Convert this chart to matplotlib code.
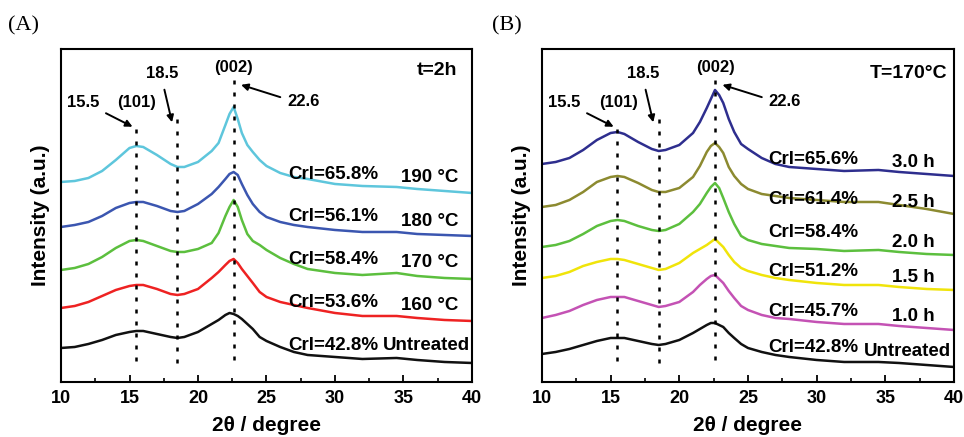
import matplotlib
matplotlib.use("Agg")
from matplotlib import pyplot as plt

plt.rcParams['font.family'] = ['Liberation Sans', 'DejaVu Sans']
plt.rcParams['font.weight'] = 'bold'

# 2theta sample positions
two_theta = [10, 11, 12, 13, 14, 15, 15.5, 16, 17, 18, 18.5, 19, 20, 21, 21.5, 22, 22.3,
             22.6, 22.9, 23.2, 23.6, 24, 24.5, 25, 26, 27, 28, 30, 32, 34.5, 36, 38, 40]

# panel A, t=2h, different temperatures (a.u., stacked with offsets)
a_190 = [200, 201, 204, 211, 222, 234, 236, 235, 227, 218, 215, 215, 220, 231, 239, 257, 268,
         275, 263, 249, 237, 230, 222, 216, 209, 205, 203, 198, 196, 195, 193, 191, 189]
a_180 = [155, 157, 160, 166, 174, 179, 180, 180, 176, 171, 170, 171, 178, 188, 195, 203, 208,
         210, 207, 198, 187, 178, 170, 165, 160, 157, 155, 152, 150, 150, 148, 147, 146]
a_170 = [112, 114, 118, 125, 134, 141, 142, 141, 136, 131, 130, 130, 133, 139, 149, 166, 175,
         182, 175, 162, 148, 141, 137, 132, 124, 118, 113, 109, 107, 109, 106, 104, 103]
a_160 = [74, 76, 80, 86, 92, 96, 97, 97, 93, 88, 87, 88, 93, 104, 110, 117, 121,
         123, 119, 113, 106, 99, 90, 85, 80, 77, 74, 69, 66, 66, 64, 62, 61]
a_raw = [34, 35, 38, 42, 47, 50, 51, 51, 48, 45, 44, 45, 50, 58, 62, 67, 69,
         68, 66, 63, 58, 53, 45, 41, 35, 30, 27, 25, 23, 24, 22, 20, 19]

# panel B, T=170C, different times
b_30 = [218, 220, 224, 232, 242, 249, 250, 248, 240, 233, 231, 232, 237, 249, 260, 274, 283,
        292, 287, 279, 263, 250, 238, 233, 224, 218, 215, 213, 211, 212, 210, 208, 206]
b_25 = [175, 177, 182, 190, 200, 205, 206, 205, 199, 192, 190, 190, 194, 205, 216, 230, 236,
        239, 235, 229, 215, 206, 198, 193, 188, 186, 184, 182, 180, 180, 177, 173, 168]
b_20 = [135, 137, 141, 148, 156, 161, 162, 161, 156, 152, 151, 152, 158, 170, 178, 189, 195,
        199, 194, 184, 170, 158, 146, 142, 138, 136, 134, 133, 131, 132, 130, 128, 127]
b_15 = [104, 106, 110, 116, 120, 123, 123, 122, 118, 114, 112, 113, 119, 129, 133, 137, 140,
        143, 139, 135, 127, 120, 114, 111, 107, 104, 102, 99, 97, 97, 95, 93, 92]
b_10 = [64, 67, 71, 77, 82, 85, 85, 85, 81, 77, 75, 76, 80, 90, 97, 103, 106,
        107, 103, 99, 91, 84, 76, 72, 67, 64, 63, 60, 58, 58, 56, 54, 52]
b_raw = [28, 30, 33, 37, 41, 44, 44, 44, 41, 38, 37, 38, 42, 49, 53, 57, 59,
         59, 57, 55, 49, 44, 38, 34, 30, 27, 25, 22, 20, 20, 19, 17, 15]

a_curves = [a_190, a_180, a_170, a_160, a_raw]
a_colors = ['#5ec6dc', '#3b56b0', '#5cbf3e', '#ee2222', '#111111']
a_crl = ['Crl=65.8%', 'Crl=56.1%', 'Crl=58.4%', 'Crl=53.6%', 'Crl=42.8%']
a_names = ['190 °C', '180 °C', '170 °C', '160 °C', 'Untreated']
a_crl_y = [207, 165, 122, 79, 36]
a_name_y = [204, 160, 119, 76, 36]

b_curves = [b_30, b_25, b_20, b_15, b_10, b_raw]
b_colors = ['#2e2e8e', '#8c8a30', '#5cbf3e', '#f0e40a', '#c452b4', '#111111']
b_crl = ['Crl=65.6%', 'Crl=61.4%', 'Crl=58.4%', 'Crl=51.2%', 'Crl=45.7%', 'Crl=42.8%']
b_names = ['3.0 h', '2.5 h', '2.0 h', '1.5 h', '1.0 h', 'Untreated']
b_crl_y = [222, 182, 149, 110, 70, 34]
b_name_y = [219, 179, 139, 104, 65, 30]

fig = plt.figure(figsize=(9.64, 4.37), dpi=100)
axA = fig.add_axes([0.0633, 0.1259, 0.4263, 0.762])
axB = fig.add_axes([0.5622, 0.1259, 0.4274, 0.762])


def setup(ax):
    ax.set_xlim(10, 40)
    ax.set_ylim(0, 333)
    ax.set_xticks([10, 15, 20, 25, 30, 35, 40])
    ax.set_xticks([12.5, 17.5, 22.5, 27.5, 32.5, 37.5], minor=True)
    ax.set_yticks([])
    ax.tick_params(axis='x', direction='in', length=5, width=1.3, labelsize=13, pad=6)
    ax.tick_params(axis='x', which='minor', direction='in', length=3, width=1.2)
    for lab in ax.get_xticklabels():
        lab.set_fontweight('bold')
    for s in ax.spines.values():
        s.set_linewidth(1.5)
    ax.set_xlabel('2θ / degree', fontsize=15, fontweight='bold', labelpad=6)
    ax.set_ylabel('Intensity (a.u.)', fontsize=15, fontweight='bold', labelpad=8)


def markers(ax):
    # dotted guide lines at 15.5, 18.5 and 22.6
    for x, top, bot in zip([15.5, 18.5, 22.6], [254, 269, 304], [21, 19, 22]):
        ax.plot([x, x], [bot, top], color='black', lw=1.8, dashes=(1.6, 3.2), zorder=3)
    ax.text(22.6, 314, '(002)', ha='center', va='center', fontsize=12, fontweight='bold')
    ax.text(17.4, 308, '18.5', ha='center', va='center', fontsize=12, fontweight='bold')
    ax.text(11.6, 279, '15.5', ha='center', va='center', fontsize=12, fontweight='bold')
    ax.text(15.55, 279, '(101)', ha='center', va='center', fontsize=12, fontweight='bold')
    ax.text(27.7, 280, '22.6', ha='center', va='center', fontsize=12, fontweight='bold')
    arrow = dict(arrowstyle='-|>', color='black', lw=1.4, mutation_scale=10)
    ax.annotate('', xy=(15.4, 254), xytext=(13.1, 270), arrowprops=arrow)
    ax.annotate('', xy=(18.15, 257), xytext=(17.5, 295), arrowprops=arrow)
    ax.annotate('', xy=(22.95, 298), xytext=(26.2, 284), arrowprops=arrow)


setup(axA)
for ys, c in zip(a_curves, a_colors):
    axA.plot(two_theta, ys, color=c, lw=1.8)
markers(axA)
for t, y in zip(a_crl, a_crl_y):
    axA.text(26.57, y, t, ha='left', va='center', fontsize=13.5, fontweight='bold')
for t, y in zip(a_names, a_name_y):
    axA.text(38.98 if t != 'Untreated' else 39.85, y, t, ha='right', va='center',
             fontsize=13.5, fontweight='bold')
axA.text(38.9, 311, 't=2h', ha='right', va='center', fontsize=14, fontweight='bold')

setup(axB)
for ys, c in zip(b_curves, b_colors):
    axB.plot(two_theta, ys, color=c, lw=1.8)
markers(axB)
for t, y in zip(b_crl, b_crl_y):
    axB.text(26.46, y, t, ha='left', va='center', fontsize=13.5, fontweight='bold')
for t, y in zip(b_names, b_name_y):
    axB.text(38.62 if t != 'Untreated' else 39.75, y, t, ha='right', va='center',
             fontsize=13.5, fontweight='bold')
axB.text(39.5, 308, 'T=170°C', ha='right', va='center', fontsize=14, fontweight='bold')

fig.text(0.008, 0.94, '(A)', fontsize=16, family='Liberation Serif', fontweight='normal', va='center')
fig.text(0.51, 0.94, '(B)', fontsize=16, family='Liberation Serif', fontweight='normal', va='center')

fig.savefig('out.png', dpi=100)
